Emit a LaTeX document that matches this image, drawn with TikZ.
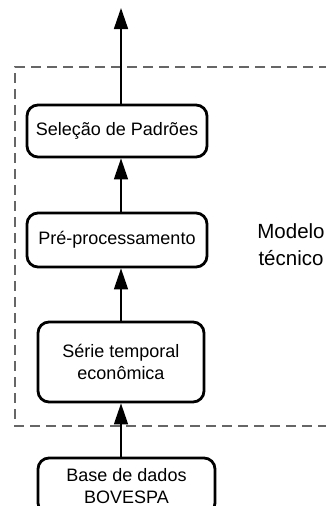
\documentclass[tikz,border=0pt]{standalone}
\usepackage{fontspec}
\setmainfont{Liberation Sans}
\usetikzlibrary{arrows.meta}
\begin{document}
\begin{tikzpicture}[x=1pt,y=-1pt,
  stepbox/.style={draw=black, line width=2.8pt, rounded corners=11pt, inner sep=0pt,
    align=center, font=\fontsize{18}{21.5}\selectfont},
  flow/.style={line width=1.6pt, -{Triangle[length=21pt,width=14pt]}},
  frame/.style={draw=black!60, line width=1.1pt, dash pattern=on 10pt off 6pt}]
\useasboundingbox (0,0) rectangle (326,506);
\clip (0,0) rectangle (326,506);
\draw[frame] (345,67) -- (15,67) -- (15,426) -- (345,426);
\coordinate (ax) at (121,0);
\coordinate (top) at (121,8);
\node[stepbox, minimum width=180pt, minimum height=52pt] (sel) at (117,131) {Seleção de Padrões};
\node[stepbox, minimum width=180pt, minimum height=54pt] (pre) at (117,240) {Pré-processamento};
\node[stepbox, minimum width=166pt, minimum height=80pt] (serie) at (121,362) {Série temporal\\econômica};
\node[stepbox, minimum width=177pt, minimum height=56pt] (base) at (126.5,486) {Base de dados\\BOVESPA};
\node[align=center, font=\fontsize{20.5}{27}\selectfont] (modelo) at (291,245) {Modelo\\técnico};
\draw[flow] (base.north -| ax) -- (serie.south -| ax);
\draw[flow] (serie.north -| ax) -- (pre.south -| ax);
\draw[flow] (pre.north -| ax) -- (sel.south -| ax);
\draw[flow] (sel.north -| ax) -- (top);
\end{tikzpicture}
\end{document}
